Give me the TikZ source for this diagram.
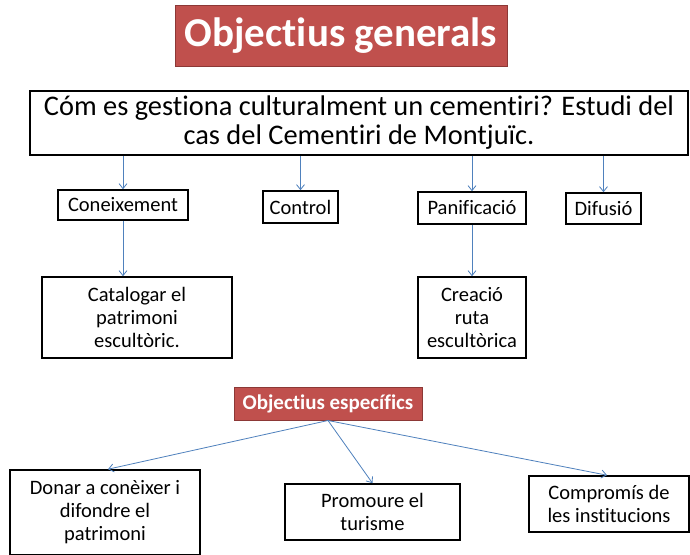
\documentclass[tikz,border=0pt]{standalone}
\usepackage{fontspec}
\setmainfont{Carlito}[Ligatures={NoCommon,NoContextual,NoRequired}]
\usetikzlibrary{arrows.meta}
\definecolor{redfill}{HTML}{C0504D}
\definecolor{redline}{HTML}{8C3836}
\definecolor{arrblue}{HTML}{4F81BD}
\newcommand{\nlg}{\kern0pt{}}
\tikzset{
  x=1pt,y=1pt,
  bx/.style={draw=black,line width=1.6pt,align=center,inner sep=0pt,rectangle,font=\fontsize{20.5}{23}\selectfont},
  redbx/.style={fill=redfill,draw=redline,line width=1pt,text=white,inner sep=0pt,font=\bfseries},
  arr/.style={draw=arrblue,line width=0.8pt,-{Straight Barb[length=5pt,width=8pt]}}
}
\begin{document}
\begin{tikzpicture}
\useasboundingbox (0,0) rectangle (690,-554);
\fill[white] (0,0) rectangle (690,-554);
% title
\node[redbx,minimum width=332,minimum height=61,font=\bfseries\fontsize{41}{44}\selectfont] (title) at (341,-35.5) {Object\nlg ius generals};
% question
\node[bx,minimum width=658,minimum height=64,font=\fontsize{28.4}{29}\selectfont] (q) at (359,-123) {Cóm es gest\nlg iona culturalment un cement\nlg iri? Estudi del\\cas del Cement\nlg iri de Montjuïc.};
% level 2
\node[bx,minimum width=130,minimum height=30] (con) at (123,-205) {Coneixement};
\node[bx,minimum width=75,minimum height=32] (ctl) at (300.5,-207) {Control};
\node[bx,minimum width=108,minimum height=32] (pan) at (472,-208) {Panificació};
\node[bx,minimum width=75,minimum height=31] (dif) at (603.5,-208.5) {Difusió};
% level 3
\node[bx,minimum width=190,minimum height=81] (cat) at (137,-317.5) {Catalogar el\\patrimoni\\escultòric.};
\node[bx,minimum width=108,minimum height=81] (cre) at (472,-317.5) {Creació\\ruta\\escultòrica};
% specific
\node[redbx,minimum width=188,minimum height=33,font=\bfseries\fontsize{21}{22}\selectfont] (esp) at (328,-403.5) {Object\nlg ius específics};
\node[bx,minimum width=190,minimum height=85] (don) at (105,-512.5) {Donar a conèixer i\\difondre el\\patrimoni};
\node[bx,minimum width=175,minimum height=56] (pro) at (372.5,-512) {Promoure el\\turisme};
\node[bx,minimum width=160,minimum height=56] (com) at (609,-504) {Compromís de\\les inst\nlg itucions};
% arrows
\draw[arr] (q.south -| con.north) -- (con.north);
\draw[arr] (q.south -| ctl.north) -- (ctl.north);
\draw[arr] (q.south -| pan.north) -- (pan.north);
\draw[arr] (q.south -| dif.north) -- (dif.north);
\draw[arr] (con.south) -- (con.south |- cat.north);
\draw[arr] (pan.south) -- (pan.south |- cre.north);
\draw[arr] (esp.south) -- ([xshift=3pt]don.north);
\draw[arr] (esp.south) -- (pro.north);
\draw[arr] (esp.south) -- ([xshift=-2pt]com.north);
\end{tikzpicture}
\end{document}
